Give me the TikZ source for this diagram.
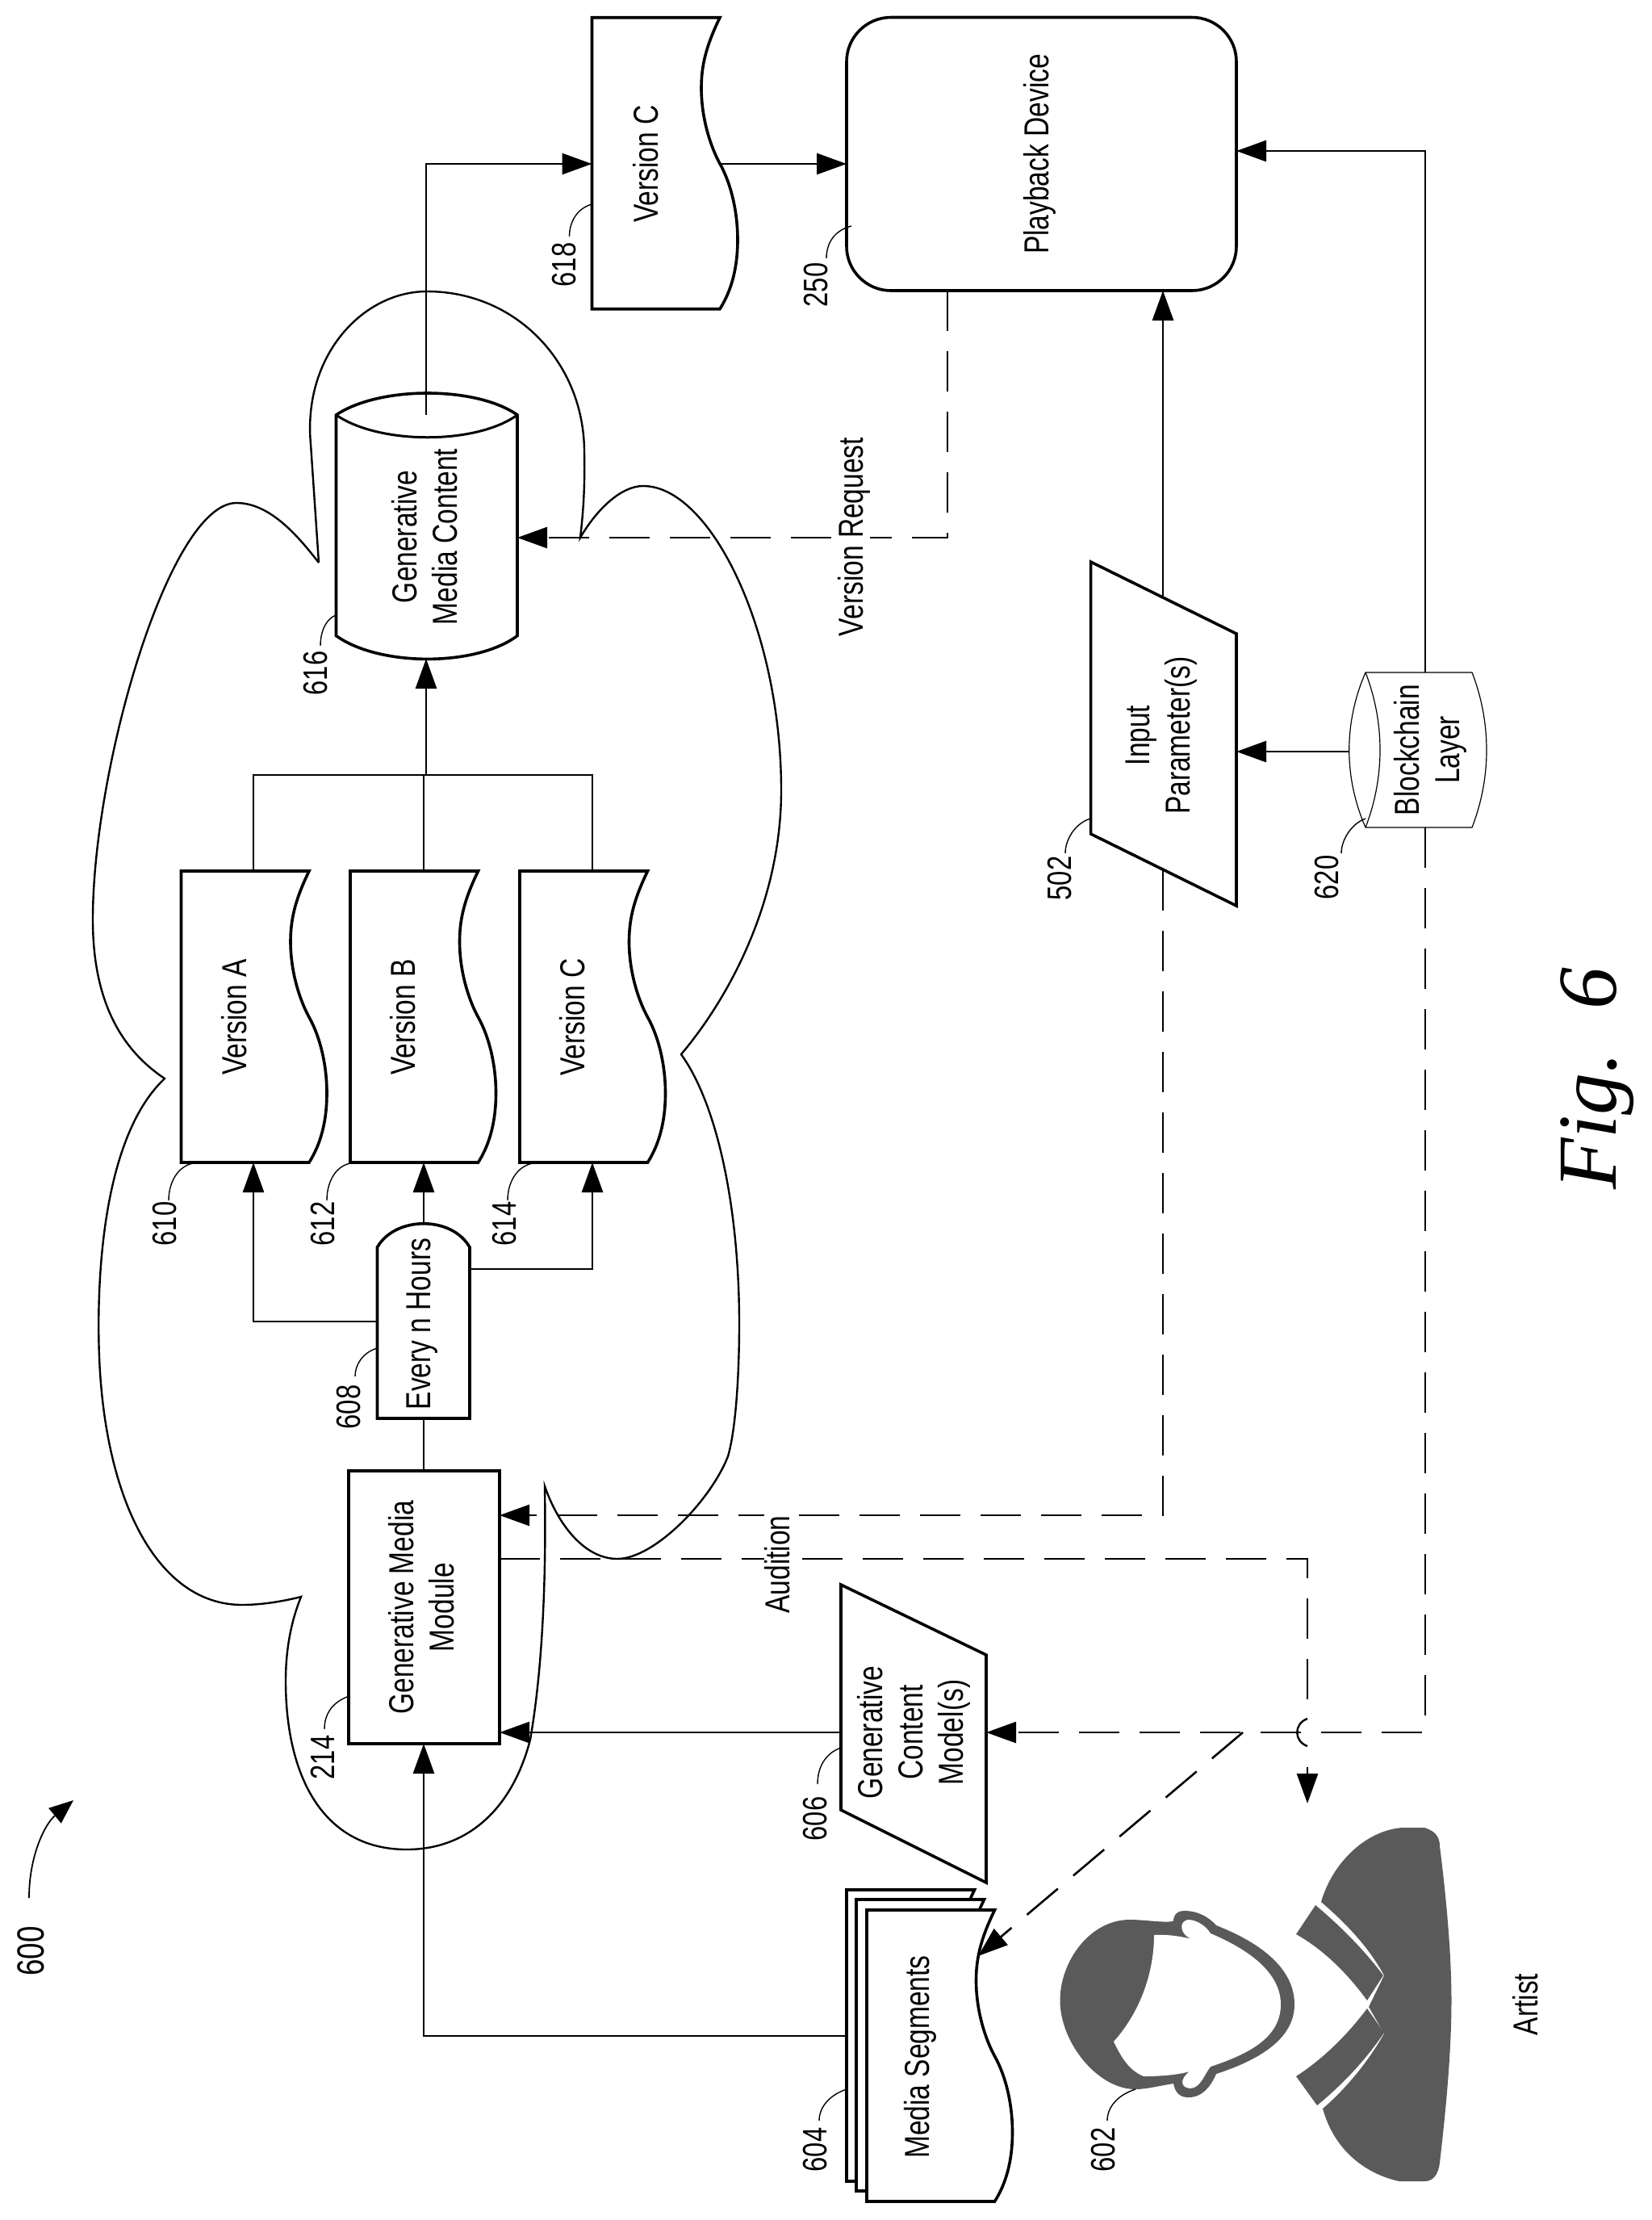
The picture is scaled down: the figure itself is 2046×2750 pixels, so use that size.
\documentclass[tikz,border=0pt]{standalone}
\usepackage{fontspec}
\setmainfont[FakeStretch=0.78]{Liberation Sans}
\newfontfamily\figfont{Liberation Serif}
\usetikzlibrary{arrows.meta}
\definecolor{persongray}{HTML}{5A5A5A}
\tikzset{
  x=1pt,y=-1pt,
  shapeline/.style={draw=black,line width=3.6pt,fill=white,line join=miter},
  thinshape/.style={draw=black,line width=1.2pt,fill=white},
  cloudline/.style={draw=black,line width=2.4pt},
  tip/.style={-{Triangle[length=37pt,width=26pt]}},
  conn/.style={draw=black,line width=2.8pt},
  dashconn/.style={draw=black,line width=2.6pt,dash pattern=on 50pt off 25pt},
  leader/.style={draw=black,line width=1.4pt},
  txt/.style={rotate=90,align=center,inner sep=0pt,font=\fontsize{43}{50}\selectfont},
  lbl/.style={rotate=90,inner sep=0pt,font=\fontsize{42}{50}\selectfont},
  wavedoc/.pic={
    \path[shapeline] (0,0) -- (158.5,0) .. controls (143.5,31) and (135.5,56) .. (135.5,87)
      .. controls (135.5,126) and (147.5,161) .. (158.5,181)
      .. controls (172.5,206) and (180.5,241) .. (180.5,275)
      .. controls (180.5,311) and (172.5,339) .. (158.5,361) -- (0,361) -- cycle;
  }
}
\begin{document}
\begin{tikzpicture}
\useasboundingbox (0,0) rectangle (2046,2750);
% cloud
\path[cloudline] (395,697) -- (385,550) .. controls (375,440) and (450,361) .. (529,361)
  .. controls (640,361) and (724,450) .. (724,560) .. controls (725,610) and (722,640) .. (719,666)
  .. controls (740,630) and (770,602) .. (797,602) .. controls (880,602) and (968,780) .. (968,979)
  .. controls (968,1120) and (900,1240) .. (844,1306)
  .. controls (890,1370) and (916,1500) .. (916,1640) .. controls (916,1700) and (912,1770) .. (902,1804)
  .. controls (880,1860) and (810,1931) .. (765,1931) .. controls (725,1931) and (692,1890) .. (675,1841)
  .. controls (676,1900) and (677,2040) .. (657,2155) .. controls (635,2240) and (580,2291) .. (504,2291)
  .. controls (400,2291) and (354,2200) .. (354,2082) .. controls (354,2040) and (362,2005) .. (373,1978)
  .. controls (345,1985) and (320,1988) .. (300,1988) .. controls (200,1988) and (135,1870) .. (124,1700)
  .. controls (120,1640) and (115,1420) .. (204,1336)
  .. controls (150,1300) and (115,1240) .. (115,1139) .. controls (115,950) and (210,623) .. (293,623)
  .. controls (335,623) and (370,665) .. (395,697);
% shapes
\pic at (224.5,1079) {wavedoc};
\pic at (434,1079) {wavedoc};
\pic at (644,1079) {wavedoc};
\pic at (733.5,21.7) {wavedoc};
\pic at (1049,2341) {wavedoc};
\pic at (1061,2353) {wavedoc};
\pic at (1074,2366) {wavedoc};
\path[shapeline] (432,1822) rectangle (619,2160);
\path[shapeline] (467.5,1757) -- (467.5,1545) .. controls (490,1506) and (560,1506) .. (582,1545) -- (582,1757) -- cycle;
\path[shapeline] (416.5,514) .. controls (470,478) and (590,478) .. (641,514) -- (641,787.5)
  .. controls (590,826) and (470,826) .. (416.5,787.5) -- cycle;
\path[draw=black,line width=3pt] (416.5,514) .. controls (470,551) and (590,551) .. (641,514);
\path[shapeline,rounded corners=55pt] (1049,21.5) rectangle (1532,360);
\path[shapeline] (1351.6,696) -- (1532,785) -- (1532,1122) -- (1351.6,1033) -- cycle;
\path[shapeline] (1042,1963) -- (1222,2050) -- (1222,2332) -- (1042,2242) -- cycle;
\path[thinshape] (1692,833) -- (1824,833) .. controls (1848,895) and (1848,963) .. (1824,1025) -- (1692,1025)
  .. controls (1665,963) and (1665,895) .. (1692,833) -- cycle;
\path[thinshape,fill=none] (1692,833) .. controls (1716,895) and (1716,963) .. (1692,1025);
% person
\fill[persongray] (1313.5,2478) .. controls (1313.5,2430) and (1350,2378) .. (1400,2378)
  .. controls (1420,2378) and (1440,2382) .. (1453.6,2380) .. controls (1455,2370) and (1460,2367) .. (1467,2367)
  .. controls (1485,2367) and (1498,2375) .. (1507,2385) .. controls (1545,2400) and (1604,2430) .. (1604,2483)
  .. controls (1604,2530) and (1550,2555) .. (1507,2569) .. controls (1500,2585) and (1490,2597) .. (1475,2598)
  .. controls (1462,2599) and (1456,2592) .. (1454,2581) .. controls (1435,2584) and (1420,2588) .. (1407,2588)
  .. controls (1360,2588) and (1313.5,2530) .. (1313.5,2478) -- cycle;
\fill[white] (1430,2397) .. controls (1430,2440) and (1415,2490) .. (1380,2529)
  .. controls (1390,2550) and (1400,2565) .. (1417,2572) .. controls (1440,2572) and (1460,2570) .. (1474,2566)
  .. controls (1462,2575) and (1462,2586) .. (1475,2587) .. controls (1488,2586) and (1492,2570) .. (1500,2560)
  .. controls (1545,2545) and (1587,2525) .. (1587,2483) .. controls (1587,2440) and (1540,2412) .. (1500,2395)
  .. controls (1494,2385) and (1482,2378) .. (1472,2378) .. controls (1460,2380) and (1462,2397) .. (1477,2402)
  .. controls (1460,2398) and (1445,2396) .. (1430,2397) -- cycle;
\fill[persongray] (1737,2264) -- (1765,2264) .. controls (1778,2268) and (1784,2275) .. (1784,2287)
  .. controls (1792,2350) and (1798.5,2420) .. (1798.5,2478) .. controls (1798.5,2540) and (1792,2610) .. (1784,2679)
  .. controls (1782,2695) and (1775,2702) .. (1765,2702) -- (1734,2702)
  .. controls (1700,2695) and (1655,2670) .. (1639,2612) .. controls (1665,2590) and (1695,2555) .. (1715,2519)
  -- (1696,2486) -- (1715,2447) .. controls (1695,2410) and (1665,2380) .. (1637,2356)
  .. controls (1650,2310) and (1690,2268) .. (1737,2264) -- cycle;
\fill[persongray] (1630,2360) .. controls (1660,2385) and (1690,2415) .. (1714,2447) -- (1694,2478)
  .. controls (1670,2445) and (1640,2415) .. (1606,2396) -- cycle;
\fill[persongray] (1606,2572) .. controls (1640,2550) and (1670,2520) .. (1694,2488) -- (1715,2518)
  .. controls (1690,2555) and (1660,2585) .. (1632,2608) -- cycle;
% ports
\coordinate (modTop) at (525,1822);
\coordinate (modBot) at (525,2160);
\coordinate (modIn) at (619,1877);
\coordinate (modOut) at (619,1931);
\coordinate (modGen) at (619,2146);
\coordinate (everyBot) at (525,1757);
\coordinate (everyTop) at (525,1516);
\coordinate (everyL) at (467.5,1637);
\coordinate (everyR) at (582,1572);
\coordinate (aBot) at (314,1440);
\coordinate (bBot) at (525,1440);
\coordinate (cBot) at (734,1440);
\coordinate (aTop) at (314,1079);
\coordinate (bTop) at (525,1079);
\coordinate (cTop) at (734,1079);
\coordinate (busL) at (314,960);
\coordinate (busC) at (528,960);
\coordinate (busR) at (734,960);
\coordinate (cylBot) at (528,816);
\coordinate (cylTop) at (528,514);
\coordinate (cylR) at (641,666);
\coordinate (vcL) at (733.5,203);
\coordinate (vcR) at (890,203);
\coordinate (pbL) at (1049,203);
\coordinate (pbBot) at (1441,360);
\coordinate (pbBotV) at (1174,360);
\coordinate (pbR) at (1532,187);
\coordinate (vrC) at (1174,666);
\coordinate (parT) at (1441,738);
\coordinate (parB) at (1441,1078);
\coordinate (parR) at (1532,931);
\coordinate (parC) at (1441,1877);
\coordinate (bcL) at (1672,931);
\coordinate (bcT) at (1766,833);
\coordinate (bcB) at (1766,1025);
\coordinate (bcUp) at (1766,187);
\coordinate (bcC) at (1766,2146);
\coordinate (genR) at (1222,2146);
\coordinate (genL) at (1042,2146);
\coordinate (split) at (1540,2146);
\coordinate (msTip) at (1212,2423);
\coordinate (msL) at (1049,2522);
\coordinate (msC) at (525,2522);
\coordinate (audC) at (1620,1931);
\coordinate (jumpA) at (1620,2129);
\coordinate (jumpB) at (1620,2163);
\coordinate (stub) at (1620,2189);
\coordinate (artistTip) at (1620,2234);
% solid connectors
\path[conn] (modTop) -- (everyBot);
\path[conn,tip] (everyL) -| (aBot);
\path[conn,tip] (everyTop) -- (bBot);
\path[conn,tip] (everyR) -| (cBot);
\path[conn] (aTop) |- (busR) -- (cTop);
\path[conn] (bTop) -- (bTop |- busC);
\path[conn,tip] (busC) -- (cylBot);
\path[conn,tip] (cylTop) |- (vcL);
\path[conn,tip] (vcR) -- (pbL);
\path[conn,tip] (parT) -- (pbBot);
\path[conn,tip] (bcL) -- (parR);
\path[conn,tip] (bcT) |- (pbR);
\path[conn,tip] (genL) -- (modGen);
\path[conn,tip] (msL) -| (modBot);
% dashed connectors
\path[dashconn,tip] (pbBotV) |- (cylR);
\path[dashconn,tip] (parB) |- (modIn);
\path[dashconn,tip] (bcB) |- (genR);
\path[dashconn,tip] (split) -- (msTip);
\path[dashconn] (modOut) -| (jumpA);
\path[conn,line width=2.4pt] (jumpA) .. controls (1603,2135) and (1603,2157) .. (jumpB);
\path[conn,tip] (stub) -- (artistTip);
% text
\node[txt] (tMod) at (522,1991) {Generative Media\\Module};
\node[txt] (tEvery) at (523,1640) {Every n Hours};
\node[txt] (tA) at (290,1260) {Version A};
\node[txt] (tB) at (499,1260) {Version B};
\node[txt] (tC) at (709,1260) {Version C};
\node[txt] (tC2) at (800,203) {Version C};
\node[txt] (tCyl) at (526,665) {Generative\\Media Content};
\node[txt] (tPlay) at (1288,191) {Playback Device};
\node[txt] (tPar) at (1439,911) {Input\\Parameter(s)};
\node[txt] (tBlock) at (1772,929) {Blockchain\\Layer};
\node[txt] (tGen) at (1132,2146) {Generative\\Content\\Model(s)};
\node[txt] (tMedia) at (1140,2548) {Media Segments};
\node[txt] (tArtist) at (1890,2483) {Artist};
\node[txt,fill=white,inner xsep=2pt] (tVer) at (1058,665) {Version Request};
\node[txt,fill=white,inner xsep=2pt] (tAud) at (963,1938) {Audition};
% reference numerals and leaders
\node[lbl,font=\fontsize{47}{50}\selectfont] (n600) at (38,2417) {600};
\path[leader,line width=1.8pt,-{Triangle[length=30pt,width=24pt]}] (36,2351) .. controls (36,2300) and (55,2260) .. (91,2230);
\node[lbl] (n214) at (400,2177) {214};
\path[leader] (430,2102) .. controls (410,2110) and (402,2125) .. (402,2142);
\node[lbl] (n608) at (432,1743) {608};
\path[leader] (467.5,1670) .. controls (450,1675) and (440,1690) .. (440,1705);
\node[lbl] (n610) at (204,1516) {610};
\path[leader] (239,1441) .. controls (220,1445) and (209,1465) .. (209,1487);
\node[lbl] (n612) at (400,1516) {612};
\path[leader] (434,1441) .. controls (415,1445) and (405,1465) .. (405,1487);
\node[lbl] (n614) at (625,1516) {614};
\path[leader] (660,1441) .. controls (640,1445) and (629,1465) .. (629,1487);
\node[lbl] (n616) at (391,834) {616};
\path[leader] (416,762) .. controls (402,768) and (397,785) .. (397,800);
\node[lbl] (n618) at (699,328) {618};
\path[leader] (733.5,253) .. controls (715,258) and (705.5,275) .. (705.5,293);
\node[lbl] (n250) at (1011,353) {250};
\path[leader] (1055,280) .. controls (1035,285) and (1024,300) .. (1024,320);
\node[lbl] (n502) at (1313.5,1088) {502};
\path[leader] (1351,1014) .. controls (1332,1020) and (1320,1040) .. (1320,1057);
\node[lbl] (n620) at (1644,1087) {620};
\path[leader] (1692,1014) .. controls (1675,1020) and (1662,1040) .. (1662,1057);
\node[lbl] (n606) at (1010,2253) {606};
\path[leader] (1042,2165) .. controls (1022,2172) and (1013,2190) .. (1013,2210);
\node[lbl] (n604) at (1010,2663) {604};
\path[leader] (1049,2588) .. controls (1028,2595) and (1015,2610) .. (1015,2627);
\node[lbl] (n602) at (1367,2663) {602};
\path[leader] (1407,2588) .. controls (1385,2595) and (1372,2610) .. (1372,2627);
\node[rotate=90,anchor=base,inner sep=0pt,font=\figfont\itshape\fontsize{104}{110}\selectfont] (figlabel) at (2002,1336) {Fig.\hspace{0.18em} 6};
\end{tikzpicture}
\end{document}
